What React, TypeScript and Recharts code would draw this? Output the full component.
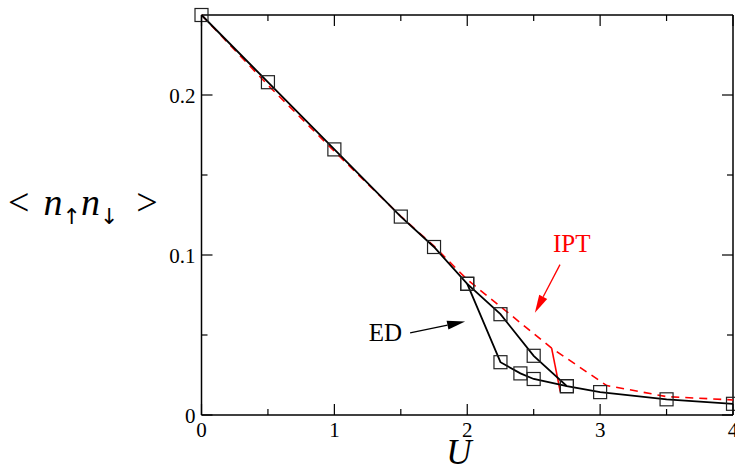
import React from "react";
import { LineChart, Line, XAxis, YAxis, ReferenceLine } from "recharts";

// ED, upper (metallic) branch
const U_ED_UP = [0, 0.5, 1, 1.5, 1.75, 2, 2.25, 2.5, 2.75, 3, 3.5, 4];
const D_ED_UP = [0.25, 0.208, 0.166, 0.124, 0.105, 0.082, 0.063, 0.037, 0.018, 0.0143, 0.0098, 0.007];
// ED, lower (insulating) branch
const U_ED_LOW = [2, 2.25, 2.4, 2.5, 2.75];
const D_ED_LOW = [0.082, 0.033, 0.026, 0.0225, 0.018];
// IPT dashed curve
const U_IPT = [0, 0.5, 1, 1.5, 1.75, 2, 2.635, 3.05, 3.5, 4];
const D_IPT = [0.25, 0.2062, 0.1648, 0.1242, 0.1055, 0.0846, 0.0418, 0.0184, 0.0115, 0.0094];
// IPT jump (solid)
const U_IPT_JUMP = [2.635, 2.7];
const D_IPT_JUMP = [0.0418, 0.0146];

const X_TICKS = [0, 0.5, 1, 1.5, 2, 2.5, 3, 3.5, 4];
const Y_TICKS = [0, 0.05, 0.1, 0.15, 0.2];

const FONT = "Liberation Serif";

const zip = (us: number[], ds: number[]) => us.map((u, i) => ({ u, d: ds[i] }));

const edUp = zip(U_ED_UP, D_ED_UP);
const edLow = zip(U_ED_LOW, D_ED_LOW);
const ipt = zip(U_IPT, D_IPT);
const iptJump = zip(U_IPT_JUMP, D_IPT_JUMP);

const isMajorX = (v: number) => Math.abs(v - Math.round(v)) < 1e-6;
const isMajorY = (v: number) => Math.round(v * 100) % 10 === 0;

// plot box in page pixels
const BOX = { left: 201.5, right: 733, top: 15, bottom: 415 };

function BottomTick(props: any) {
  const { x, payload } = props;
  const major = isMajorX(payload.value);
  const len = major ? 11 : 6;
  return (
    <g>
      <line x1={x} y1={BOX.bottom} x2={x} y2={BOX.bottom - len} stroke="#000" strokeWidth={1.2} />
      <line x1={x} y1={BOX.top} x2={x} y2={BOX.top + len} stroke="#000" strokeWidth={1.2} />
      {major && (
        <text x={x} y={BOX.bottom + 22} textAnchor="middle" fontFamily={FONT} fontSize={21} fill="#000">
          {payload.value}
        </text>
      )}
    </g>
  );
}

function LeftTick(props: any) {
  const { y, payload } = props;
  const major = isMajorY(payload.value);
  const len = major ? 11 : 6;
  return (
    <g>
      <line x1={BOX.left} y1={y} x2={BOX.left + len} y2={y} stroke="#000" strokeWidth={1.2} />
      <line x1={BOX.right} y1={y} x2={BOX.right - len} y2={y} stroke="#000" strokeWidth={1.2} />
      {major && (
        <text x={BOX.left - 6} y={y + 8} textAnchor="end" fontFamily={FONT} fontSize={21} fill="#000">
          {payload.value}
        </text>
      )}
    </g>
  );
}

function Square(props: any) {
  const { cx, cy } = props;
  if (cx == null || cy == null) return null;
  return <rect x={cx - 6.5} y={cy - 6.5} width={13} height={13} fill="none" stroke="#222" strokeWidth={1.2} />;
}

function Arrow({ x1, y1, x2, y2, color, text, tx, ty, anchor }: any) {
  const ang = Math.atan2(y2 - y1, x2 - x1);
  const len = 18;
  const half = 4.5;
  const bx = x2 - len * Math.cos(ang);
  const by = y2 - len * Math.sin(ang);
  const px = -Math.sin(ang) * half;
  const py = Math.cos(ang) * half;
  return (
    <g>
      <line x1={x1} y1={y1} x2={bx} y2={by} stroke={color} strokeWidth={1.3} />
      <polygon points={`${x2},${y2} ${bx + px},${by + py} ${bx - px},${by - py}`} fill={color} />
      <text x={x1 + tx} y={y1 + ty} textAnchor={anchor} fontFamily={FONT} fontSize={25} fill={color}>
        {text}
      </text>
    </g>
  );
}

function Labels() {
  return (
    <g>
      <text x={8} y={215} fontFamily={FONT} fontSize={38} fill="#000">
        <tspan>{"<"}</tspan>
        <tspan fontStyle="italic" dx={14}>n</tspan>
        <tspan fontFamily="DejaVu Sans" fontSize={22} dy={9}>{"\u2191"}</tspan>
        <tspan fontStyle="italic" dy={-9}>n</tspan>
        <tspan fontFamily="DejaVu Sans" fontSize={22} dy={9}>{"\u2193"}</tspan>
        <tspan dy={-9} dx={18}>{">"}</tspan>
      </text>
      <text x={459} y={464} textAnchor="middle" fontFamily={FONT} fontStyle="italic" fontSize={35} fill="#000">
        U
      </text>
    </g>
  );
}

export default function App() {
  return (
    <div style={{ position: "absolute", left: 0, top: 0, background: "#fff" }}>
      <LineChart width={735} height={470} margin={{ top: 15, right: 2, bottom: 0, left: 0 }}>
        <XAxis
          dataKey="u"
          type="number"
          domain={[0, 4]}
          ticks={X_TICKS}
          interval={0}
          height={55}
          tickSize={0}
          tickMargin={0}
          tick={BottomTick}
          tickLine={false}
          axisLine={{ stroke: "#000", strokeWidth: 1.5 }}
          label={{ content: Labels }}
        />
        <YAxis
          type="number"
          domain={[0, 0.25]}
          ticks={Y_TICKS}
          interval={0}
          width={201.5}
          tickSize={0}
          tickMargin={0}
          tick={LeftTick}
          tickLine={false}
          axisLine={{ stroke: "#000", strokeWidth: 1.5 }}
        />
        <ReferenceLine x={4} stroke="#000" strokeWidth={1.5} />
        <ReferenceLine y={0.25} stroke="#000" strokeWidth={1.5} />
        <Line
          data={ipt}
          dataKey="d"
          type="linear"
          stroke="#ff0000"
          strokeWidth={1.6}
          strokeDasharray="8 6"
          dot={false}
          isAnimationActive={false}
        />
        <Line
          data={iptJump}
          dataKey="d"
          type="linear"
          stroke="#ff0000"
          strokeWidth={1.6}
          dot={false}
          isAnimationActive={false}
        />
        <Line
          data={edLow}
          dataKey="d"
          type="linear"
          stroke="#000"
          strokeWidth={1.8}
          dot={Square}
          isAnimationActive={false}
        />
        <Line
          data={edUp}
          dataKey="d"
          type="linear"
          stroke="#000"
          strokeWidth={1.8}
          dot={Square}
          isAnimationActive={false}
        />
        <ReferenceLine
          segment={[{ x: 2.698, y: 0.094 }, { x: 2.509, y: 0.0639 }]}
          shape={(p: any) => <Arrow {...p} color="#ff0000" text="IPT" tx={-7} ty={-13} anchor="start" />}
        />
        <ReferenceLine
          segment={[{ x: 1.57, y: 0.0513 }, { x: 1.984, y: 0.0585 }]}
          shape={(p: any) => <Arrow {...p} color="#000" text="ED" tx={-8} ty={8} anchor="end" />}
        />
      </LineChart>
    </div>
  );
}
